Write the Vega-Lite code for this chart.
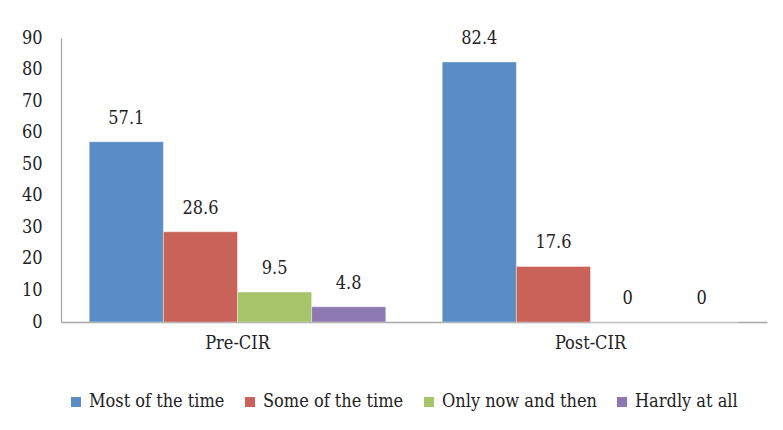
{
  "$schema": "https://vega.github.io/schema/vega-lite/v6.json",
  "width": 706,
  "height": 284,
  "autosize": "none",
  "padding": {"left": 61, "top": 38, "right": 16, "bottom": 108},
  "background": "white",
  "config": {
    "view": {"stroke": null},
    "font": "DejaVu Serif Condensed",
    "axis": {"labelFont": "DejaVu Serif Condensed", "labelFontSize": 18, "labelColor": "#222222", "domainColor": "#A6A6A6", "domainWidth": 1.3, "ticks": false, "grid": false, "title": null}
  },
  "data": {
    "values": [
      {"group": "Pre-CIR", "response": "Most of the time", "value": 57.1},
      {"group": "Pre-CIR", "response": "Some of the time", "value": 28.6},
      {"group": "Pre-CIR", "response": "Only now and then", "value": 9.5},
      {"group": "Pre-CIR", "response": "Hardly at all", "value": 4.8},
      {"group": "Post-CIR", "response": "Most of the time", "value": 82.4},
      {"group": "Post-CIR", "response": "Some of the time", "value": 17.6},
      {"group": "Post-CIR", "response": "Only now and then", "value": 0},
      {"group": "Post-CIR", "response": "Hardly at all", "value": 0}
    ]
  },
  "encoding": {
    "x": {"field": "group", "type": "nominal", "sort": ["Pre-CIR", "Post-CIR"],
      "scale": {"paddingInner": 0.16, "paddingOuter": 0.08},
      "axis": {"labelAngle": 0, "labelPadding": 21, "labelBaseline": "middle"}},
    "xOffset": {"field": "response", "type": "nominal",
      "sort": ["Most of the time", "Some of the time", "Only now and then", "Hardly at all"],
      "scale": {"paddingInner": 0, "paddingOuter": 0}},
    "y": {"field": "value", "type": "quantitative",
      "scale": {"domain": [0, 90], "nice": false},
      "axis": {"values": [0, 10, 20, 30, 40, 50, 60, 70, 80, 90], "labelPadding": 19}}
  },
  "layer": [
    {
      "mark": {"type": "bar", "stroke": "white", "strokeWidth": 0.6, "strokeOpacity": 0.6},
      "encoding": {
        "color": {"field": "response", "type": "nominal",
          "sort": ["Most of the time", "Some of the time", "Only now and then", "Hardly at all"],
          "scale": {"domain": ["Most of the time", "Some of the time", "Only now and then", "Hardly at all"],
                    "range": ["#5A8DC5", "#C9635A", "#A8C46B", "#8E78B1"]},
          "legend": {"orient": "none", "direction": "horizontal", "columns": 4,
            "legendX": 6, "legendY": 355, "padding": 0, "title": null,
            "symbolType": "square", "symbolSize": 100, "symbolStrokeWidth": 0,
            "labelFont": "DejaVu Serif Condensed", "labelFontSize": 18, "labelColor": "#222222",
            "labelOffset": 4, "columnPadding": 16, "labelLimit": 300}}
      }
    },
    {
      "mark": {"type": "text", "baseline": "middle", "dy": -23, "fontSize": 18, "font": "DejaVu Serif Condensed", "color": "#222222"},
      "encoding": {"text": {"field": "value", "type": "quantitative"}}
    }
  ]
}
